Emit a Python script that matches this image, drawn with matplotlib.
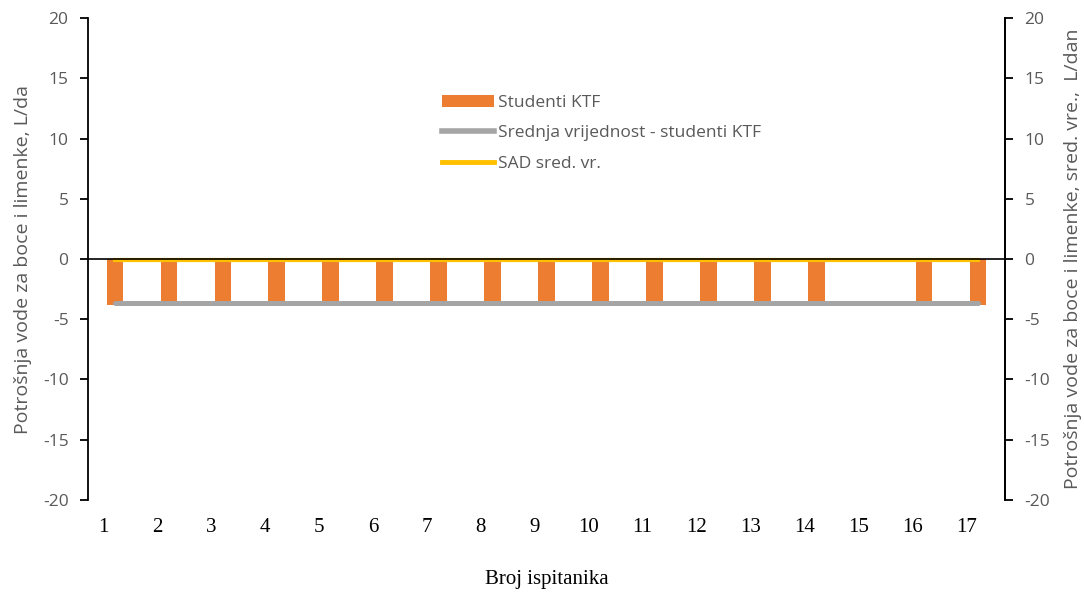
import numpy as np
import matplotlib.pyplot as plt
from matplotlib.patches import Patch
from matplotlib.lines import Line2D

# ----------- DATA -------------
ispitanici = list(range(1, 18))
studenti_ktf = [-3.8, -3.8, -3.8, -3.8, -3.8, -3.8, -3.8, -3.8, -3.8,
                -3.8, -3.8, -3.8, -3.8, -3.8, 0.0, -3.8, -3.8]
srednja_ktf = [-3.65] * 17
sad_sred = [-0.12] * 17
tick_labels = [str(i) for i in ispitanici]

orange = "#ED7D31"
grey = "#A5A5A5"
yellow = "#FFC000"
txt_grey = "#595959"

plt.rcParams['font.family'] = ['Open Sans', 'DejaVu Sans']
plt.rcParams['axes.unicode_minus'] = False

fig = plt.figure(figsize=(10.84, 5.95), dpi=100)
ax = fig.add_axes([0.0812, 0.1597, 0.8459, 0.81])

x = np.array(ispitanici)
ax.bar(x, studenti_ktf, width=0.31, color=orange, zorder=2)
ax.plot(x, srednja_ktf, color=grey, lw=3.6, solid_capstyle='round', zorder=3)
ax.plot(x, sad_sred, color=yellow, lw=3.0, zorder=3)
ax.axhline(0, color="black", lw=1.2, zorder=4)

ax.set_xlim(0.5, 17.5)
ax.set_ylim(-20, 20)
ax.set_yticks(np.arange(-20, 21, 5))

ax.spines['top'].set_visible(False)
ax.spines['bottom'].set_visible(False)
for s in ['left', 'right']:
    ax.spines[s].set_linewidth(1.3)

ax.tick_params(axis='y', direction='out', length=6, width=1.3,
               labelsize=12.5, labelcolor=txt_grey, pad=8)
ax.set_ylabel("Potrošnja vode za boce i limenke, L/da", fontsize=14,
              color=txt_grey, labelpad=8)

# x tick labels (Times-like, slightly left of bars as in the original)
ax.set_xticks(x - 0.22)
ax.set_xticklabels(tick_labels, fontfamily='Liberation Serif', fontsize=15)
ax.tick_params(axis='x', length=0, pad=13)
ax.set_xlabel("Broj ispitanika", fontfamily='Liberation Serif', fontsize=15,
              labelpad=24)

ax2 = ax.twinx()
ax2.set_ylim(-20, 20)
ax2.set_yticks(np.arange(-20, 21, 5))
ax2.spines['top'].set_visible(False)
ax2.spines['bottom'].set_visible(False)
ax2.spines['left'].set_visible(False)
ax2.spines['right'].set_linewidth(1.3)
ax2.tick_params(axis='y', direction='out', length=6, width=1.3,
                labelsize=12.5, labelcolor=txt_grey, pad=8)
ax2.set_ylabel("Potrošnja vode za boce i limenke, sred. vre.,  L/dan",
               fontsize=14, color=txt_grey, labelpad=10)

handles = [Patch(facecolor=orange, edgecolor='none'),
           Line2D([], [], color=grey, lw=4),
           Line2D([], [], color=yellow, lw=3.5)]
labels = ["Studenti KTF", "Srednja vrijednost - studenti KTF", "SAD sred. vr."]
ax2.legend(handles, labels, loc='upper left', bbox_to_anchor=(0.4, 0.855),
           bbox_transform=fig.transFigure, frameon=False, fontsize=12.5,
           labelcolor=txt_grey, handlelength=3.0, handleheight=0.7,
           labelspacing=0.82, handletextpad=0.2, borderpad=0)

fig.savefig("out.png", dpi=100)
